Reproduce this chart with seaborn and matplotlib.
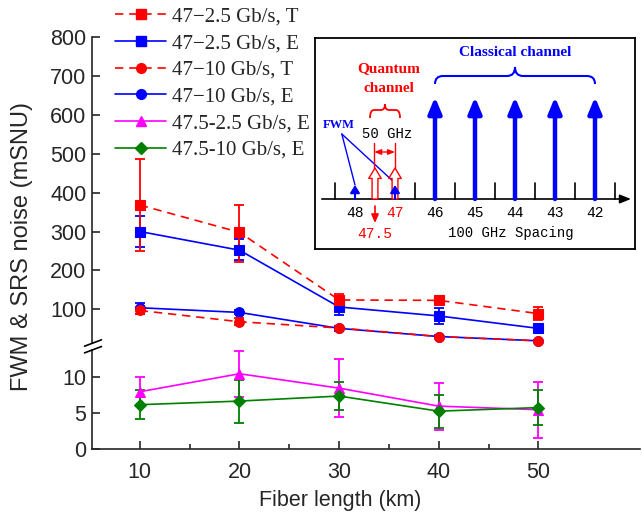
import numpy as np
import pandas as pd
import matplotlib
matplotlib.use("Agg")
import matplotlib.pyplot as plt
import seaborn as sns
from matplotlib.lines import Line2D
from matplotlib.patches import FancyArrowPatch, PathPatch
from matplotlib.path import Path

# ---------------- data ----------------
length_km = [10, 20, 30, 40, 50]

t25 = [368, 298, 124, 123, 89]
t25_hi = [487, 367, 140, 131, 106]
t25_lo = [250, 221, 108, 115, 73]

e25 = [300, 252, 106, 83, 51]
e25_hi = [340, 280, 127, 104, 63]
e25_lo = [260, 226, 86, 62, 40]

t10 = [97, 68, 52, 30, 19]
t10_hi = [105, 78, 58, 34, 22]
t10_lo = [89, 60, 46, 26, 16]

e10 = [104, 92, 51, 30, 19]
e10_hi = [117, 97, 57, 34, 22]
e10_lo = [89, 87, 45, 26, 16]

m25 = [8.0, 10.5, 8.5, 6.0, 5.5]
m25_hi = [10.0, 13.6, 12.5, 9.2, 9.4]
m25_lo = [6.0, 7.2, 4.5, 2.7, 1.6]

g10 = [6.2, 6.7, 7.4, 5.3, 5.8]
g10_hi = [8.2, 9.7, 9.4, 7.5, 8.3]
g10_lo = [4.2, 3.7, 5.4, 3.0, 3.4]

labels = ["47\u22122.5 Gb/s, T", "47\u22122.5 Gb/s, E", "47\u221210 Gb/s, T",
          "47\u221210 Gb/s, E", "47.5-2.5 Gb/s, E", "47.5-10 Gb/s, E"]

upper_ticks = [100, 200, 300, 400, 500, 600, 700, 800]
lower_ticks = [0, 5, 10]
x_ticks = [10, 20, 30, 40, 50]

# inset diagram content
channel_numbers = [48, 47, 46, 45, 44, 43, 42]
classical_channels = [46, 45, 44, 43, 42]
quantum_channels = [47.5, 47]
fwm_channels = [48, 47]

# ---------------- style ----------------
sns.set_theme(style="ticks")
plt.rcParams["font.family"] = ["Liberation Sans", "DejaVu Sans"]
plt.rcParams["axes.linewidth"] = 1.2

W, H = 642, 516
fig = plt.figure(figsize=(W / 100, H / 100), dpi=100)

def fx(px):
    return px / W

def fy(py):
    return 1 - py / H

L = 92
R = 640
ax_up = fig.add_axes([fx(L), fy(343), fx(R - L), fy(37) - fy(343)])
ax_lo = fig.add_axes([fx(L), fy(449.3), fx(R - L), fy(350) - fy(449.3)])

xlim = (5.2, 60.2)
ax_up.set_xlim(*xlim)
ax_lo.set_xlim(*xlim)
ax_up.set_ylim(13.4, 800)
ax_lo.set_ylim(0, 13.8)

RED, BLUE, MAG, GRN = "#ff0000", "#0000ff", "#ff00ff", "#008000"

def series(ax, y, lo, hi, color, marker, dashed, ms):
    ax.errorbar(length_km, y, yerr=[np.subtract(y, lo), np.subtract(hi, y)],
                fmt="none", ecolor=color, elinewidth=1.3, capsize=3.8,
                capthick=1.3, clip_on=False, zorder=2)
    sns.lineplot(x=length_km, y=y, ax=ax, color=color, marker=marker,
                 markersize=ms, markeredgecolor=color, markeredgewidth=0.8,
                 linewidth=1.2, errorbar=None, legend=False, zorder=3)
    ln = ax.lines[-1]
    ln.set_clip_on(False)
    if dashed:
        ln.set_dashes([5, 3.5])
    return ln

series(ax_up, e25, e25_lo, e25_hi, BLUE, "s", False, 6.5)
series(ax_up, t25, t25_lo, t25_hi, RED, "s", True, 6.5)
series(ax_up, e10, e10_lo, e10_hi, BLUE, "o", False, 7)
series(ax_up, t10, t10_lo, t10_hi, RED, "o", True, 7)
series(ax_lo, m25, m25_lo, m25_hi, MAG, "^", False, 7.5)
series(ax_lo, g10, g10_lo, g10_hi, GRN, "D", False, 6)

# axes styling
for ax in (ax_up, ax_lo):
    ax.spines["right"].set_visible(False)
    ax.spines["top"].set_visible(False)
    ax.set_facecolor("none")
    ax.set_xlabel("")
    ax.set_ylabel("")
ax_up.spines["bottom"].set_visible(False)
ax_up.tick_params(axis="x", bottom=False, labelbottom=False)
ax_up.set_yticks(upper_ticks)
ax_lo.set_yticks(lower_ticks)
ax_lo.set_xticks(x_ticks)
ax_lo.set_xticks([15, 25, 35, 45], minor=True)
for ax in (ax_up, ax_lo):
    ax.tick_params(axis="y", direction="in", length=6, width=1.2,
                   labelsize=15.5, pad=4)
ax_lo.tick_params(axis="x", which="major", direction="in", length=6,
                  width=1.2, labelsize=15.5, pad=9)
ax_lo.tick_params(axis="x", which="minor", direction="in", length=3.5,
                  width=1.2)

ax_lo.set_xlabel("Fiber length (km)", fontsize=15.5)
ax_lo.xaxis.set_label_coords((340 - L) / (R - L), -0.41)
fig.text(fx(22), fy(246.5), "FWM & SRS noise (mSNU)", rotation=90,
         ha="center", va="center", fontsize=17)

# break marks
for yc in (343, 349.7):
    fig.add_artist(Line2D([fx(84.5), fx(101.5)], [fy(yc + 3.2), fy(yc - 3.2)],
                          transform=fig.transFigure, color="black", lw=1.2))

# legend
handles = [
    Line2D([], [], color=RED, marker="s", ms=6.5, dashes=[5, 3.5], lw=1.2),
    Line2D([], [], color=BLUE, marker="s", ms=6.5, lw=1.2),
    Line2D([], [], color=RED, marker="o", ms=7, dashes=[5, 3.5], lw=1.2),
    Line2D([], [], color=BLUE, marker="o", ms=7, lw=1.2),
    Line2D([], [], color=MAG, marker="^", ms=7.5, lw=1.2),
    Line2D([], [], color=GRN, marker="D", ms=6, lw=1.2),
]
fig.legend(handles, labels, loc="upper left",
           bbox_to_anchor=(fx(115), fy(7)), frameon=False,
           prop={"family": "Liberation Serif", "size": 15},
           handlelength=2.45, handletextpad=0.3, labelspacing=0.34,
           borderpad=0, borderaxespad=0)

# ---------------- inset diagram ----------------
ins = fig.add_axes([fx(315), fy(249), fx(635 - 315), fy(38) - fy(249)])
ins.set_xlim(-1, 7)
ins.set_ylim(0, 211)
ins.set_xticks([])
ins.set_yticks([])
ins.set_facecolor("white")
for s in ins.spines.values():
    s.set_visible(True)
    s.set_linewidth(1.3)
    s.set_color("black")

mono = "Liberation Mono"
serif = "Liberation Serif"

def pos(n):
    return 48 - n

# baseline with arrow
ins.annotate("", xy=(6.9, 50), xytext=(-0.83, 50),
             arrowprops=dict(arrowstyle="-|>,head_length=0.55,head_width=0.22",
                             lw=1.2, color="black", shrinkA=0, shrinkB=0,
                             mutation_scale=12))
for k in range(8):
    u = -0.5 + k
    ins.plot([u, u], [50, 66], color="black", lw=1.2)

# classical channels
for n in classical_channels:
    u = pos(n)
    ins.annotate("", xy=(u, 152), xytext=(u, 50),
                 arrowprops=dict(arrowstyle="-|>,head_length=0.6,head_width=0.25",
                                 lw=3.2, color=BLUE, shrinkA=0, shrinkB=0,
                                 mutation_scale=16))

# quantum channels (hollow arrows)
for n in quantum_channels:
    u = pos(n)
    ins.add_patch(FancyArrowPatch((u, 50), (u, 81),
                  arrowstyle="simple,head_length=0.75,head_width=0.9,tail_width=0.42",
                  mutation_scale=10, fc="white", ec=RED, lw=1.0,
                  shrinkA=0, shrinkB=0, zorder=4))

# FWM arrows
for n in fwm_channels:
    u = pos(n)
    ins.annotate("", xy=(u, 64), xytext=(u, 50),
                 arrowprops=dict(arrowstyle="-|>,head_length=0.45,head_width=0.28",
                                 lw=1.5, color=BLUE, shrinkA=0, shrinkB=0,
                                 mutation_scale=10), zorder=5)
ins.plot([-0.33, 0.0], [115, 64], color=BLUE, lw=1.0)
ins.plot([-0.33, 1.0], [115, 66], color=BLUE, lw=1.0)
ins.text(-0.41, 124, "FWM", color=BLUE, fontsize=9, family=serif,
         ha="center", va="center", fontweight="bold")

# 50 GHz dimension
ins.plot([0.48, 0.48], [80, 106], color=RED, lw=1.0)
ins.plot([1.0, 1.0], [80, 106], color=RED, lw=1.0)
ins.annotate("", xy=(1.0, 97), xytext=(0.48, 97),
             arrowprops=dict(arrowstyle="<|-|>,head_length=0.5,head_width=0.2",
                             lw=1.0, color=RED, shrinkA=0, shrinkB=0,
                             mutation_scale=8))
ins.text(0.8, 115, "50 GHz", fontsize=10, family=mono, ha="center",
         va="center", color="black")

# braces
def brace(ax, x0, x1, yb, ym, ya, rx, color, lw):
    xm = (x0 + x1) / 2
    verts = [(x0, yb), (x0, ym), (x0 + rx, ym), (xm - rx, ym), (xm, ym),
             (xm, ya), (xm, ym), (xm + rx, ym), (x1 - rx, ym), (x1, ym),
             (x1, yb)]
    codes = [Path.MOVETO, Path.CURVE3, Path.CURVE3, Path.LINETO, Path.CURVE3,
             Path.CURVE3, Path.CURVE3, Path.CURVE3, Path.LINETO, Path.CURVE3,
             Path.CURVE3]
    ax.add_patch(PathPatch(Path(verts, codes), fill=False, ec=color, lw=lw))

brace(ins, 2.0, 6.0, 165, 173, 182, 0.2, BLUE, 1.5)
brace(ins, 0.375, 1.125, 131, 139, 145, 0.1, RED, 1.3)

ins.text(4.0, 197, "Classical channel", color=BLUE, fontsize=11,
         family=serif, fontweight="bold", ha="center", va="center")
ins.text(0.84, 180, "Quantum", color=RED, fontsize=11, family=serif,
         fontweight="bold", ha="center", va="center")
ins.text(0.84, 161, "channel", color=RED, fontsize=11, family=serif,
         fontweight="bold", ha="center", va="center")

# channel labels
for n in channel_numbers:
    ins.text(pos(n), 36, f"{n}", fontsize=10.5, family=mono, ha="center",
             va="center", color=RED if n == 47 else "black")
ins.annotate("", xy=(0.5, 26), xytext=(0.5, 43),
             arrowprops=dict(arrowstyle="-|>,head_length=0.5,head_width=0.22",
                             lw=1.2, color=RED, shrinkA=0, shrinkB=0,
                             mutation_scale=10))
ins.text(0.5, 15, "47.5", fontsize=10.5, family=mono, ha="center",
         va="center", color=RED)
ins.text(3.9, 16, "100 GHz Spacing", fontsize=10, family=mono,
         ha="center", va="center", color="black")

fig.savefig("out.png", dpi=100)
